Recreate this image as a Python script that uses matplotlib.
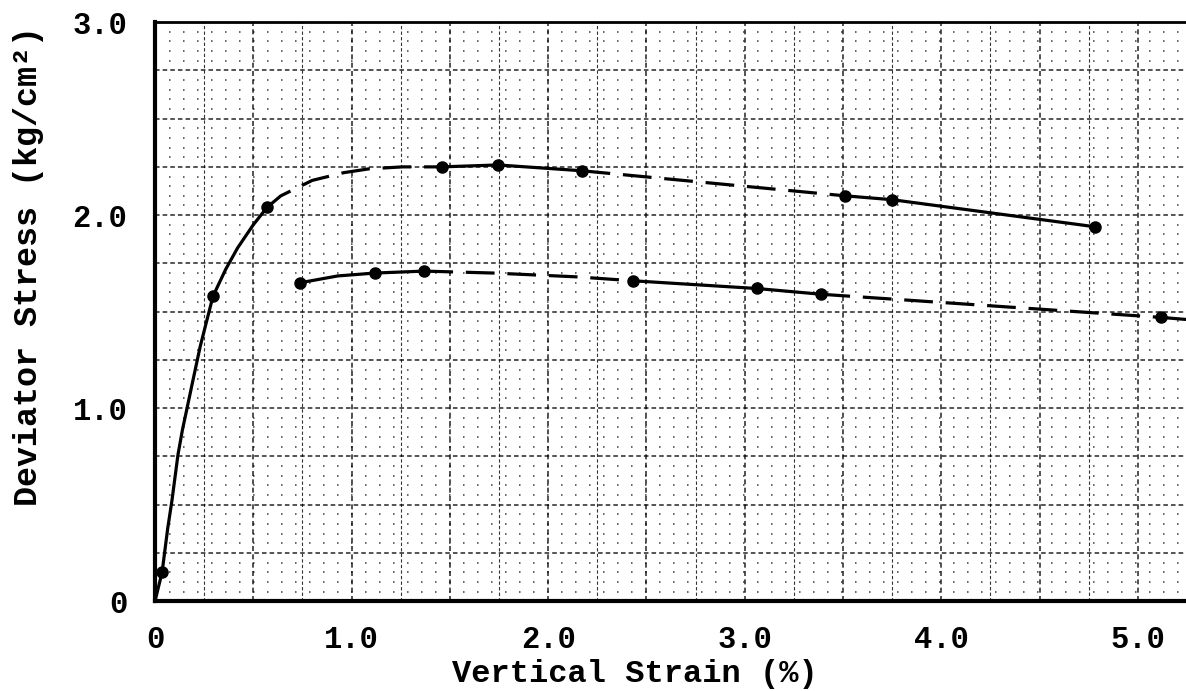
import matplotlib
matplotlib.use("Agg")
import matplotlib.pyplot as plt
import numpy as np

# upper curve: traced points along the drawn line (strain %, stress kg/cm2)
upper_x = [0, 0.036, 0.065, 0.086, 0.117, 0.14, 0.163, 0.19, 0.23, 0.295, 0.36, 0.42, 0.50, 0.57,
           0.64, 0.80, 0.96, 1.09, 1.26, 1.46, 1.745, 2.17, 3.51, 3.75, 4.78]
upper_y = [0, 0.15, 0.38, 0.52, 0.76, 0.89, 1.00, 1.13, 1.32, 1.58, 1.72, 1.83, 1.95, 2.04,
           2.10, 2.18, 2.22, 2.24, 2.25, 2.25, 2.26, 2.23, 2.10, 2.08, 1.94]
upper_marks = [1, 9, 13, 19, 20, 21, 22, 23, 24]
# (start index, end index, dashed?)
upper_segs = [(0, 13, False), (13, 19, True), (19, 21, False), (21, 22, True), (22, 24, False)]

# lower curve
lower_x = [0.74, 0.93, 1.12, 1.37, 1.72, 2.15, 2.43, 3.06, 3.39, 5.12, 5.3]
lower_y = [1.65, 1.685, 1.70, 1.71, 1.70, 1.68, 1.66, 1.62, 1.59, 1.47, 1.455]
lower_marks = [0, 2, 3, 6, 7, 8, 9]
lower_segs = [(0, 3, False), (3, 6, True), (6, 8, False), (8, 9, True), (9, 10, False)]

x_ticks = [0, 1.0, 2.0, 3.0, 4.0, 5.0]
x_ticklabels = ["0", "1.0", "2.0", "3.0", "4.0", "5.0"]
y_ticks = [0, 1.0, 2.0, 3.0]
y_ticklabels = ["0", "1.0", "2.0", "3.0"]

plt.rcParams['font.family'] = ['Liberation Mono', 'DejaVu Sans Mono']
plt.rcParams['font.weight'] = 'bold'
plt.rcParams['axes.labelweight'] = 'bold'

fig = plt.figure(figsize=(11.86, 6.91), dpi=100)
ax = fig.add_axes([0.1307, 0.130, 0.8693, 0.838])


def draw_curve(xs, ys, segs, marks):
    for a, b, dashed in segs:
        ls = (0, (9, 4)) if dashed else "-"
        ax.plot(xs[a:b + 1], ys[a:b + 1], color="black", linewidth=2.3,
                linestyle=ls, solid_capstyle="round", zorder=4)
    ax.plot([xs[i] for i in marks], [ys[i] for i in marks], "o",
            color="black", markersize=8, zorder=5)


draw_curve(upper_x, upper_y, upper_segs, upper_marks)
draw_curve(lower_x, lower_y, lower_segs, lower_marks)

ax.set_xlim(0, 5.245)
ax.set_ylim(0, 3.0)

# graph paper look
for gx in np.arange(0.25, 5.3, 0.25):
    lw = 1.2 if abs(gx * 2 - round(gx * 2)) < 1e-6 else 0.8
    ax.axvline(gx, color="black", linewidth=lw, linestyle=(0, (3, 2)), alpha=0.8, zorder=1)
for gy in np.arange(0.25, 3.0, 0.25):
    ax.axhline(gy, color="black", linewidth=1.1, linestyle=(0, (3, 2)), alpha=0.85, zorder=1)
for gy in np.arange(0.05, 3.0, 0.05):
    if abs(gy * 4 - round(gy * 4)) < 1e-6:
        continue
    ax.axhline(gy, color="black", linewidth=1.4, linestyle=(0, (0.8, 6.4)), alpha=0.6, zorder=1)

ax.spines["left"].set_linewidth(3)
ax.spines["bottom"].set_linewidth(3)
ax.spines["top"].set_linewidth(2)
ax.spines["right"].set_visible(False)

ax.set_xticks(x_ticks)
ax.set_xticklabels(x_ticklabels)
ax.set_yticks(y_ticks)
ax.set_yticklabels(y_ticklabels)
ax.tick_params(axis="both", length=0, labelsize=22)
ax.tick_params(axis="x", pad=17)
ax.tick_params(axis="y", pad=20)

ax.set_xlabel("Vertical Strain (%)", fontsize=23)
ax.set_ylabel("Deviator Stress (kg/cm²)", fontsize=24)
ax.xaxis.set_label_coords(0.465, -0.1)
ax.yaxis.set_label_coords(-0.108, 0.578)

fig.savefig("out.png", dpi=100)
